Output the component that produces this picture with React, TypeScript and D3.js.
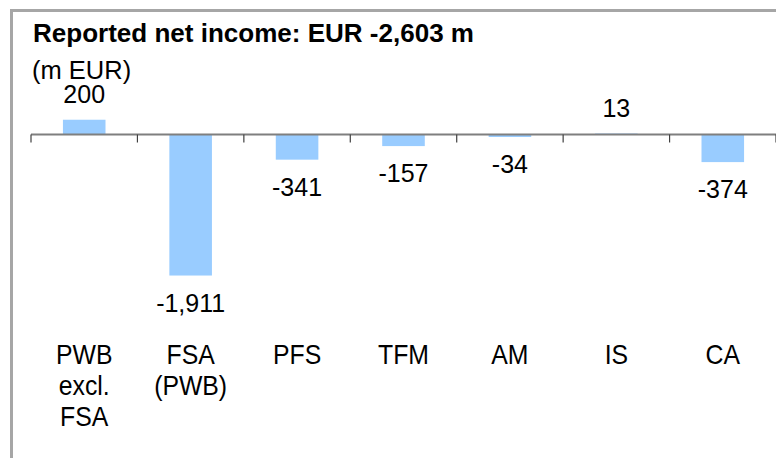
import React from "react";
import * as d3 from "d3";

const categories: string[][] = [
  ["PWB", "excl.", "FSA"],
  ["FSA", "(PWB)"],
  ["PFS"],
  ["TFM"],
  ["AM"],
  ["IS"],
  ["CA"],
];
const values: number[] = [200, -1911, -341, -157, -34, 13, -374];
const title = "Reported net income: EUR -2,603 m";
const unitLabel = "(m EUR)";

const W = 776;
const H = 458;
const FONT = "'Liberation Sans', Arial, Helvetica, sans-serif";

const fmt = d3
  .formatLocale({ decimal: ".", thousands: ",", grouping: [3], currency: ["", ""], minus: "-" })
  .format(",");

export default function App() {
  const keys = categories.map((_, i) => String(i));
  const x = d3.scaleBand<string>().domain(keys).range([31, 776]).padding(0);
  const pxPerUnit = 0.0738;
  const zeroY = 134.5;
  const y = d3
    .scaleLinear()
    .domain([-2000, 300])
    .range([zeroY + 2000 * pxPerUnit, zeroY - 300 * pxPerUnit]);
  const bw = x.bandwidth() * 0.4;
  const ticks = keys.map((k) => x(k)!).concat([x.range()[1]]);

  return (
    <svg
      width={W}
      height={H}
      style={{ position: "absolute", left: 0, top: 0, background: "#fff" }}
      fontFamily={FONT}
    >
      <rect x={0} y={0} width={W} height={H} fill="#fff" />
      {/* frame */}
      <line x1={11.5} y1={10.5} x2={W} y2={10.5} stroke="#a6a6a6" strokeWidth={3} />
      <line x1={11.5} y1={9} x2={11.5} y2={H} stroke="#a6a6a6" strokeWidth={3} />

      <text
        x={33}
        y={41.5}
        fontSize={25}
        fontWeight="bold"
        fill="#000"
        textLength={441}
        lengthAdjust="spacingAndGlyphs"
      >
        {title}
      </text>
      <text x={32} y={78.5} fontSize={25.5} fill="#000">
        {unitLabel}
      </text>

      {/* bars */}
      {values.map((v, i) => {
        const cx = x(keys[i])! + x.bandwidth() / 2;
        const y0 = y(Math.max(0, v));
        const y1 = y(Math.min(0, v));
        return (
          <rect key={i} x={cx - bw / 2} y={y0} width={bw} height={Math.max(0.8, y1 - y0)} fill="#99ccff" />
        );
      })}

      {/* axis */}
      <line x1={x.range()[0]} y1={zeroY} x2={x.range()[1]} y2={zeroY} stroke="#7f7f7f" strokeWidth={2} />
      {ticks.map((t, i) => (
        <line key={i} x1={t} y1={zeroY} x2={t} y2={zeroY + 8} stroke="#404040" strokeWidth={1.2} />
      ))}

      {/* value labels */}
      {values.map((v, i) => {
        const cx = x(keys[i])! + x.bandwidth() / 2;
        const ly = v >= 0 ? y(v) - 17 : y(v) + 36;
        return (
          <text key={i} x={cx} y={ly} fontSize={25} textAnchor="middle" fill="#000">
            {fmt(v)}
          </text>
        );
      })}

      {/* category labels */}
      {categories.map((lines, i) => {
        const cx = x(keys[i])! + x.bandwidth() / 2;
        return (
          <g key={i} transform={`translate(${cx},0) scale(0.87,1)`}>
            <text x={0} y={364} fontSize={28.5} textAnchor="middle" fill="#000">
              {lines.map((l, j) => (
                <tspan key={j} x={0} y={364 + j * 31}>
                  {l}
                </tspan>
              ))}
            </text>
          </g>
        );
      })}
    </svg>
  );
}
